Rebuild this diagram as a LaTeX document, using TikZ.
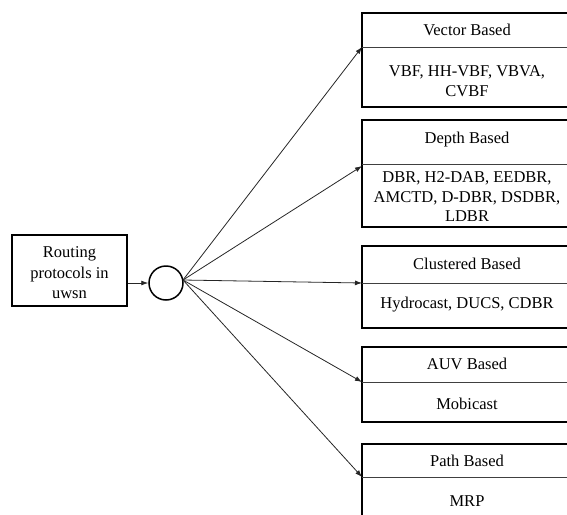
\documentclass[tikz,border=0pt]{standalone}
\usepackage{fontspec}
\setmainfont{Liberation Serif}
\usetikzlibrary{arrows.meta}
\begin{document}
\begin{tikzpicture}[x=1pt,y=-1pt,
  outerbox/.style={draw, line width=1.5pt, minimum width=210pt, inner sep=0pt},
  txt/.style={align=center, inner sep=0pt, font=\fontsize{16.5}{19.5}\selectfont},
  divider/.style={line width=0.8pt, draw=black!75},
  arr/.style={line width=0.8pt, draw=black!85, -{Latex[length=7pt,width=5pt]}}]
\useasboundingbox (0,0) rectangle (567,514);
% left box and circle
\node[draw, line width=1.5pt, minimum width=115pt, minimum height=71pt, inner sep=0pt] (r) at (69.5,270.5) {};
\node[txt, font=\fontsize{16.5}{20.5}\selectfont] (rt) at (69.5,273) {Routing\\protocols in\\uwsn};
\node[draw, circle, line width=1.5pt, minimum size=34pt, inner sep=0pt] (c) at (166,283) {};
\draw[arr] (r.east |- c) -- (c.west);
% Vector
\node[outerbox, minimum height=94pt] (v) at (467,60) {};
\node[txt] (vt) at (467,30) {Vector Based};
\node[txt] (vb) at (467,81) {VBF, HH-VBF, VBVA,\\CVBF};
\coordinate (va) at (362,47); \coordinate (vz) at (572,47);
\draw[divider] (va) -- (vz);
% Depth
\node[outerbox, minimum height=107pt] (d) at (467,173.5) {};
\node[txt] (dt) at (467,140) {Depth Based};
\node[txt] (db) at (467,197) {DBR, H2-DAB, EEDBR,\\AMCTD, D-DBR, DSDBR,\\LDBR};
\coordinate (da) at (362,166); \coordinate (dz) at (572,164); \coordinate (dd) at (362,164);
\draw[divider] (dd) -- (dz);
% Clustered
\node[outerbox, minimum height=82pt] (k) at (467,287) {};
\node[txt] (kt) at (467,264) {Clustered Based};
\node[txt] (kb) at (467,305) {Hydrocast, DUCS, CDBR};
\coordinate (ka) at (362,283); \coordinate (kz) at (572,283);
\draw[divider] (ka) -- (kz);
% AUV
\node[outerbox, minimum height=75pt] (a) at (467,384.5) {};
\node[txt] (at) at (467,364) {AUV Based};
\node[txt] (ab) at (467,404) {Mobicast};
\coordinate (aa) at (362,382); \coordinate (az) at (572,382);
\draw[divider] (aa) -- (az);
% Path
\node[outerbox, minimum height=76pt] (p) at (467,482) {};
\node[txt] (pt) at (467,461) {Path Based};
\node[txt] (pb) at (467,501) {MRP};
\coordinate (pa) at (362,477); \coordinate (pz) at (572,477);
\draw[divider] (pa) -- (pz);
% arrows
\coordinate (o) at (183,280);
\draw[arr] (o) -- (va);
\draw[arr] (o) -- (da);
\draw[arr] (o) -- (ka);
\draw[arr] (o) -- (aa);
\draw[arr] (o) -- (pa);
\end{tikzpicture}
\end{document}
